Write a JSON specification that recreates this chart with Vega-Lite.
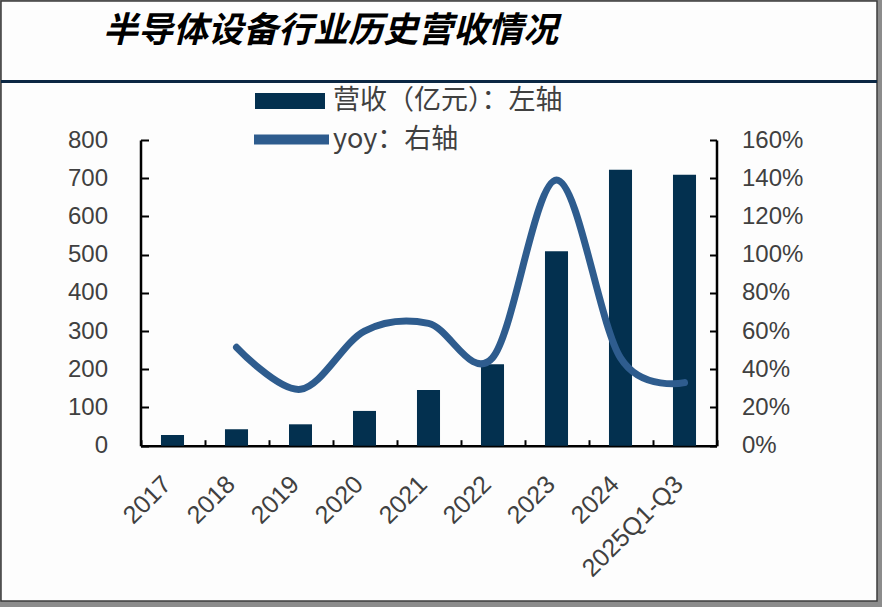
{
  "$schema": "https://vega.github.io/schema/vega-lite/v6.json",
  "autosize": "none",
  "padding": {"left": 1, "top": 1, "right": 5, "bottom": 6},
  "width": 876,
  "height": 600,
  "background": "#8c8c8c",
  "view": {"fill": "#fdfdfd", "stroke": "#3c3c3c", "strokeWidth": 1.5},
  "data": {
    "values": [
      {"cat": "2017", "rev": 28, "yoy": null},
      {"cat": "2018", "rev": 43, "yoy": 0.515},
      {"cat": "2019", "rev": 56, "yoy": 0.295},
      {"cat": "2020", "rev": 91, "yoy": 0.60},
      {"cat": "2021", "rev": 146, "yoy": 0.64},
      {"cat": "2022", "rev": 213, "yoy": 0.46},
      {"cat": "2023", "rev": 509, "yoy": 1.39},
      {"cat": "2024", "rev": 722, "yoy": 0.46},
      {"cat": "2025Q1-Q3", "rev": 709, "yoy": 0.33}
    ]
  },
  "layer": [
    {
      "layer": [
        {
          "data": {"values": [{"k": 1}]},
          "mark": {"type": "rule", "stroke": "#0B2743", "strokeWidth": 3},
          "encoding": {
            "y": {"datum": 953, "type": "quantitative", "title": null, "scale": {"domain": [0, 800], "range": [444.7, 139]}}
          }
        },
        {
          "data": {"values": [{"t": "半导体设备行业历史营收情况"}]},
          "mark": {
            "type": "text",
            "align": "left",
            "baseline": "middle",
            "dx": -336,
            "font": "Noto Sans CJK SC",
            "fontSize": 35,
            "fontWeight": "bold",
            "fontStyle": "italic",
            "color": "#000000"
          },
          "encoding": {
            "y": {"datum": 1085, "type": "quantitative"},
            "text": {"field": "t", "type": "nominal"}
          }
        },
        {
          "mark": {"type": "bar", "width": {"band": 0.36}},
          "encoding": {
            "x": {
              "field": "cat",
              "type": "nominal",
              "sort": null,
              "title": null,
              "scale": {"range": [139.5, 715.5], "paddingInner": 0, "paddingOuter": 0},
              "axis": {
                "orient": "bottom",
                "offset": -155.3,
                "labelAngle": -45,
                "labelAlign": "right",
                "labelBaseline": "middle",
                "labelFont": "Liberation Sans",
                "labelFontSize": 25,
                "labelColor": "#404040",
                "labelPadding": 40,
                "labelOffset": -6,
                "tickBand": "extent",
                "tickSize": -6,
                "tickWidth": 2,
                "tickColor": "#000000",
                "domainColor": "#000000",
                "domainWidth": 2.5
              }
            },
            "y": {
              "field": "rev",
              "type": "quantitative",
              "title": null,
              "scale": {"domain": [0, 800], "range": [444.7, 139]},
              "axis": {
                "orient": "left",
                "offset": -139.5,
                "values": [0, 100, 200, 300, 400, 500, 600, 700, 800],
                "grid": false,
                "labelFont": "Liberation Sans",
                "labelFontSize": 24,
                "labelColor": "#404040",
                "labelPadding": 41,
                "tickSize": -8,
                "tickWidth": 2,
                "tickColor": "#000000",
                "domainColor": "#000000",
                "domainWidth": 2.5
              }
            },
            "fill": {
              "datum": "营收（亿元）：左轴",
              "scale": {"range": ["#03304F"]},
              "legend": {
                "orient": "none",
                "legendX": 254,
                "legendY": 65,
                "title": null,
                "symbolType": "M-1,-0.23H1V0.23H-1Z",
                "symbolSize": 4900,
                "symbolStrokeWidth": 0,
                "labelFont": "Noto Sans CJK SC",
                "labelFontSize": 27,
                "labelColor": "#404040",
                "labelOffset": 8,
                "labelLimit": 400
              }
            }
          }
        }
      ]
    },
    {
      "mark": {"type": "line", "interpolate": "cardinal", "tension": 0, "strokeWidth": 7, "strokeCap": "round"},
      "encoding": {
        "x": {"field": "cat", "type": "nominal", "sort": null},
        "y": {
          "field": "yoy",
          "type": "quantitative",
          "title": null,
          "scale": {"domain": [0, 1.6], "range": [444.7, 139]},
          "axis": {
            "orient": "right",
            "offset": -160.5,
            "values": [0, 0.2, 0.4, 0.6, 0.8, 1.0, 1.2, 1.4, 1.6],
            "format": ".0%",
            "grid": false,
            "labelFont": "Liberation Sans",
            "labelFontSize": 24,
            "labelColor": "#404040",
            "labelPadding": 32,
            "tickSize": -7,
            "tickWidth": 2,
            "tickColor": "#000000",
            "domainColor": "#000000",
            "domainWidth": 2.5
          }
        },
        "stroke": {
          "datum": "yoy：右轴",
          "scale": {"range": ["#2E5C8E"]},
          "legend": {
            "orient": "none",
            "legendX": 248,
            "legendY": 96,
            "title": null,
            "symbolType": "stroke",
            "symbolSize": 5625,
            "symbolStrokeWidth": 10,
            "labelFont": "Noto Sans CJK SC",
            "labelFontSize": 27,
            "labelColor": "#404040",
            "labelOffset": -1,
            "labelLimit": 400
          }
        }
      }
    }
  ],
  "resolve": {"scale": {"y": "independent"}}
}
